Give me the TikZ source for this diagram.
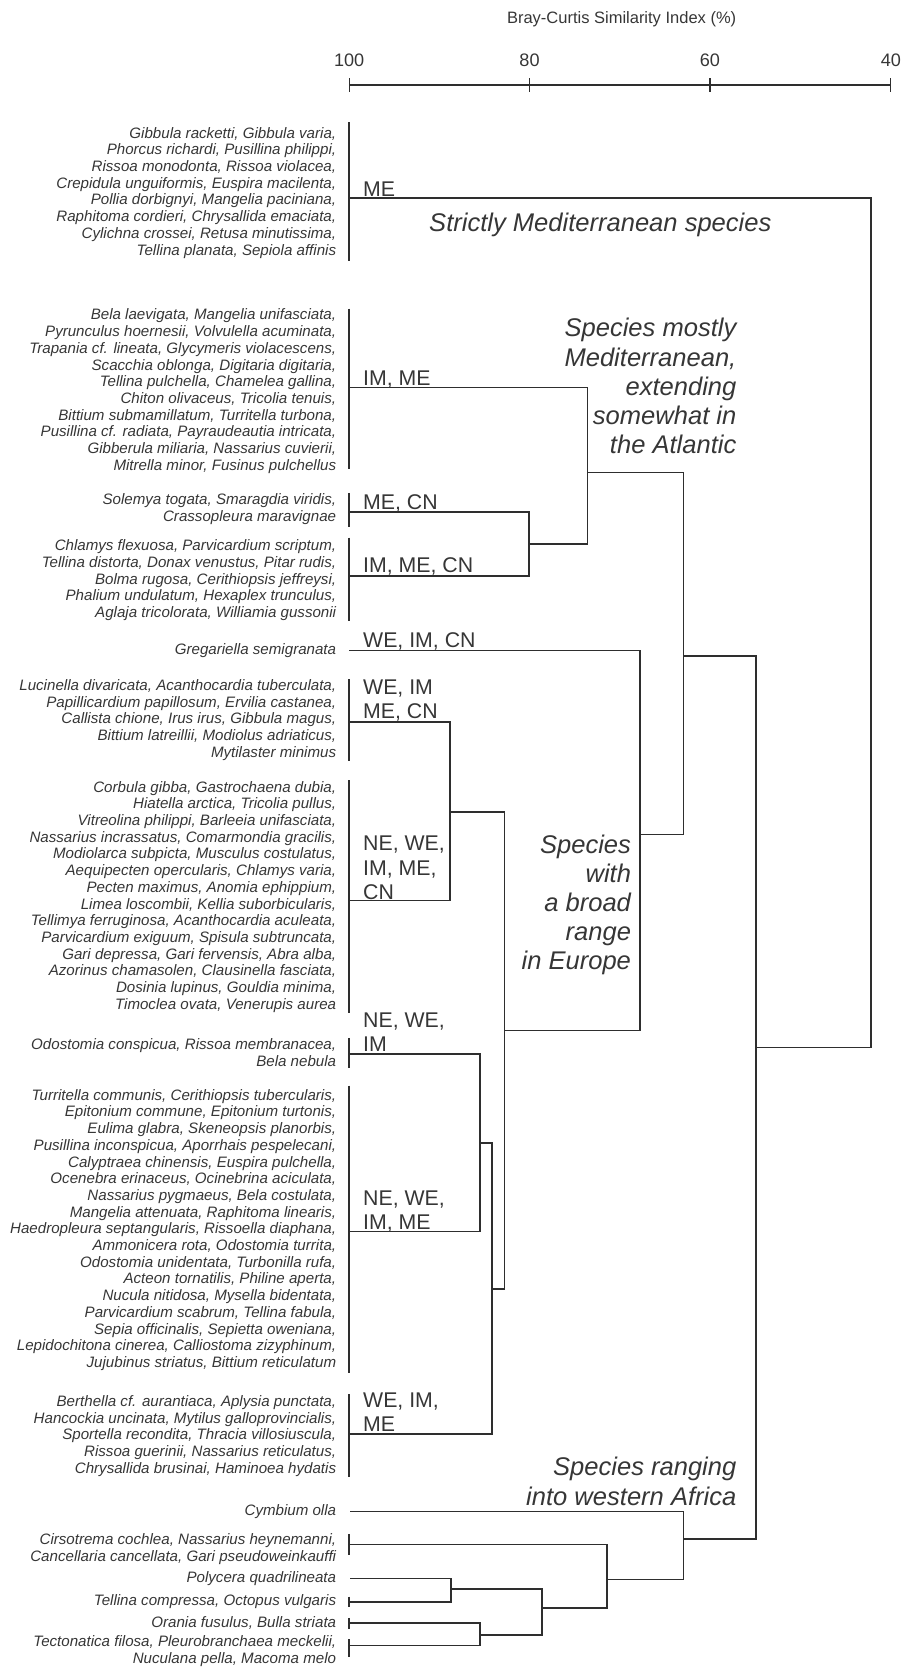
\documentclass[tikz,border=0pt]{standalone}
\usepackage{fontspec}
\setmainfont{Liberation Sans}
\definecolor{ink}{HTML}{2E2E2E}
\definecolor{txt}{HTML}{363636}
\tikzset{
  sp/.style={anchor=east, align=right, inner sep=0pt, text=txt, font=\fontsize{14.2}{15.7}\selectfont\itshape},
  grp/.style={anchor=base west, inner sep=0pt, text=txt, font=\fontsize{20}{22.8}\selectfont},
  note/.style={anchor=north east, align=right, inner sep=0pt, text=txt, font=\fontsize{24}{27.4}\selectfont\itshape},
  link/.style={draw=ink, line width=1.6pt},
  leafbar/.style={draw=ink, line width=2.4pt},
  axisline/.style={draw=ink, line width=2.4pt},
  tick/.style={draw=ink, line width=1pt},
  ticklab/.style={inner sep=0pt, text=txt, font=\fontsize{17}{20}\selectfont},
}
\newcommand{\stk}[1]{\begin{tabular}[b]{@{}l@{}}#1\end{tabular}}
\begin{document}
\begin{tikzpicture}[x=1pt,y=-1pt]
\useasboundingbox (0,0) rectangle (850,1568);

% ---------- axis ----------
\node[inner sep=0pt, text=txt, font=\fontsize{15.5}{18}\selectfont] (title) at (584,18) {Bray-Curtis Similarity Index (\%)};
\coordinate (A100) at (328,80);
\coordinate (A80) at (497.5,80);
\coordinate (A60) at (667,80);
\coordinate (A40) at (837,80);
\draw[axisline] (A100) -- (A40);
\foreach \c in {A100,A80,A60,A40} \draw[tick] ([yshift=-6pt]\c) -- ([yshift=7pt]\c);
\node[ticklab] (l100) at (328,57) {100};
\node[ticklab] (l80) at (497.5,57) {80};
\node[ticklab] (l60) at (667,57) {60};
\node[ticklab] (l40) at (837,57) {40};

% ---------- species blocks ----------
\node[sp] (t1) at (316,181) {Gibbula racketti, Gibbula varia,\\Phorcus richardi, Pusillina philippi,\\Rissoa monodonta, Rissoa violacea,\\Crepidula unguiformis, Euspira macilenta,\\Pollia dorbignyi, Mangelia paciniana,\\Raphitoma cordieri, Chrysallida emaciata,\\Cylichna crossei, Retusa minutissima,\\Tellina planata, Sepiola affinis};
\node[sp] (t2) at (316,367.5) {Bela laevigata, Mangelia unifasciata,\\Pyrunculus hoernesii, Volvulella acuminata,\\Trapania cf. lineata, Glycymeris violacescens,\\Scacchia oblonga, Digitaria digitaria,\\Tellina pulchella, Chamelea gallina,\\Chiton olivaceus, Tricolia tenuis,\\Bittium submamillatum, Turritella turbona,\\Pusillina cf. radiata, Payraudeautia intricata,\\Gibberula miliaria, Nassarius cuvierii,\\Mitrella minor, Fusinus pulchellus};
\node[sp] (t3) at (316,478) {Solemya togata, Smaragdia viridis,\\Crassopleura maravignae};
\node[sp] (t4) at (316,545) {Chlamys flexuosa, Parvicardium scriptum,\\Tellina distorta, Donax venustus, Pitar rudis,\\Bolma rugosa, Cerithiopsis jeffreysi,\\Phalium undulatum, Hexaplex trunculus,\\Aglaja tricolorata, Williamia gussonii};
\node[sp] (t5) at (316,611) {Gregariella semigranata};
\node[sp] (t6) at (316,676.5) {Lucinella divaricata, Acanthocardia tuberculata,\\Papillicardium papillosum, Ervilia castanea,\\Callista chione, Irus irus, Gibbula magus,\\Bittium latreillii, Modiolus adriaticus,\\Mytilaster minimus};
\node[sp] (t7) at (316,842.5) {Corbula gibba, Gastrochaena dubia,\\Hiatella arctica, Tricolia pullus,\\Vitreolina philippi, Barleeia unifasciata,\\Nassarius incrassatus, Comarmondia gracilis,\\Modiolarca subpicta, Musculus costulatus,\\Aequipecten opercularis, Chlamys varia,\\Pecten maximus, Anomia ephippium,\\Limea loscombii, Kellia suborbicularis,\\Tellimya ferruginosa, Acanthocardia aculeata,\\Parvicardium exiguum, Spisula subtruncata,\\Gari depressa, Gari fervensis, Abra alba,\\Azorinus chamasolen, Clausinella fasciata,\\Dosinia lupinus, Gouldia minima,\\Timoclea ovata, Venerupis aurea};
\node[sp] (t8) at (316,989) {Odostomia conspicua, Rissoa membranacea,\\Bela nebula};
\node[sp] (t9) at (316,1155.5) {Turritella communis, Cerithiopsis tubercularis,\\Epitonium commune, Epitonium turtonis,\\Eulima glabra, Skeneopsis planorbis,\\Pusillina inconspicua, Aporrhais pespelecani,\\Calyptraea chinensis, Euspira pulchella,\\Ocenebra erinaceus, Ocinebrina aciculata,\\Nassarius pygmaeus, Bela costulata,\\Mangelia attenuata, Raphitoma linearis,\\Haedropleura septangularis, Rissoella diaphana,\\Ammonicera rota, Odostomia turrita,\\Odostomia unidentata, Turbonilla rufa,\\Acteon tornatilis, Philine aperta,\\Nucula nitidosa, Mysella bidentata,\\Parvicardium scabrum, Tellina fabula,\\Sepia officinalis, Sepietta oweniana,\\Lepidochitona cinerea, Calliostoma zizyphinum,\\Jujubinus striatus, Bittium reticulatum};
\node[sp] (t10) at (316,1349) {Berthella cf. aurantiaca, Aplysia punctata,\\Hancockia uncinata, Mytilus galloprovincialis,\\Sportella recondita, Thracia villosiuscula,\\Rissoa guerinii, Nassarius reticulatus,\\Chrysallida brusinai, Haminoea hydatis};
\node[sp] (t11) at (316,1420) {Cymbium olla};
\node[sp] (t12) at (316,1455) {Cirsotrema cochlea, Nassarius heynemanni,\\Cancellaria cancellata, Gari pseudoweinkauffi};
\node[sp] (t13) at (316,1483) {Polycera quadrilineata};
\node[sp] (t14) at (316,1505) {Tellina compressa, Octopus vulgaris};
\node[sp] (t15) at (316,1525) {Orania fusulus, Bulla striata};
\node[sp] (t16) at (316,1551) {Tectonatica filosa, Pleurobranchaea meckelii,\\Nuculana pella, Macoma melo};

% ---------- leaf bars ----------
\draw[leafbar] (328,115) -- (328,245);
\draw[leafbar] (328,290) -- (328,441);
\draw[leafbar] (328,463) -- (328,495);
\draw[leafbar] (328,505) -- (328,583);
\draw[leafbar] (328,638) -- (328,715);
\draw[leafbar] (328,733) -- (328,952);
\draw[leafbar] (328,975) -- (328,1003);
\draw[leafbar] (328,1020) -- (328,1290);
\draw[leafbar] (328,1310) -- (328,1388);
\draw[leafbar] (328,1441) -- (328,1461);
\draw[leafbar] (328,1500) -- (328,1510);
\draw[leafbar] (328,1520) -- (328,1530);
\draw[leafbar] (328,1540) -- (328,1557);

% ---------- dendrogram ----------
\coordinate (L1) at (328,186);
\coordinate (L2) at (328,364);
\coordinate (L3) at (328,481);
\coordinate (L4) at (328,541);
\coordinate (L5) at (328,611);
\coordinate (L6) at (328,678);
\coordinate (L7) at (328,846);
\coordinate (L8) at (328,990);
\coordinate (L9) at (328,1157);
\coordinate (L10) at (328,1347);
\coordinate (L11) at (329,1420);
\coordinate (L12) at (328,1451);
\coordinate (L13) at (329,1483);
\coordinate (L14) at (328,1505);
\coordinate (L15) at (328,1525);
\coordinate (L16) at (328,1546);
\coordinate (Na) at (497,511);
\coordinate (Nb) at (552,444);
\coordinate (Nc) at (642,616);
\coordinate (Nd) at (601,784);
\coordinate (Ne) at (474,968);
\coordinate (Nf) at (423,763);
\coordinate (Ng) at (462,1211);
\coordinate (Nh) at (451,1074);
\coordinate (Ni) at (710,984);
\coordinate (Nj) at (642,1446);
\coordinate (Nk) at (570,1484);
\coordinate (Nl) at (509,1511);
\coordinate (Nm) at (424,1493);
\coordinate (Nn) at (451,1536);
\coordinate (R) at (818,600);

\draw[link] (L3) -| (Na) |- (L4);
\draw[link] (L2) -| (Nb) |- (Na);
\draw[link] (Nb) -| (Nc) |- (Nd);
\draw[link] (L5) -| (Nd) |- (Ne);
\draw[link] (Nf) -| (Ne) |- (Ng);
\draw[link] (L6) -| (Nf) |- (L7);
\draw[link] (Nh) -| (Ng) |- (L10);
\draw[link] (L8) -| (Nh) |- (L9);
\draw[link] (Nc) -| (Ni) |- (Nj);
\draw[link] (L1) -| (R) |- (Ni);
\draw[link] (L11) -| (Nj) |- (Nk);
\draw[link] (L12) -| (Nk) |- (Nl);
\draw[link] (Nm) -| (Nl) |- (Nn);
\draw[link] (L13) -| (Nm) |- (L14);
\draw[link] (L15) -| (Nn) |- (L16);

% ---------- group labels ----------
\node[grp] (g1) at (341,185) {ME};
\node[grp] (g2) at (341,362) {IM, ME};
\node[grp] (g3) at (341,479) {ME, CN};
\node[grp] (g4) at (341,538) {IM, ME, CN};
\node[grp] (g5) at (341,608) {WE, IM, CN};
\node[grp] (g6) at (341,675) {\stk{WE, IM\\ME, CN}};
\node[grp] (g7) at (341,845) {\stk{NE, WE,\\IM, ME,\\CN}};
\node[grp] (g8) at (341,988) {\stk{NE, WE,\\IM}};
\node[grp] (g9) at (341,1155) {\stk{NE, WE,\\IM, ME}};
\node[grp] (g10) at (341,1345) {\stk{WE, IM,\\ME}};

% ---------- annotations ----------
\node[inner sep=0pt, text=txt, font=\fontsize{24}{27.4}\selectfont\itshape] (n1) at (564,211) {Strictly Mediterranean species};
\node[note] (n2) at (692,299) {Species mostly\\Mediterranean,\\extending\\somewhat in\\the Atlantic};
\node[note] (n3) at (593,784) {Species\\with\\a broad\\range\\in Europe};
\node[note] (n4) at (692,1369) {Species ranging\\into western Africa};
\end{tikzpicture}
\end{document}
